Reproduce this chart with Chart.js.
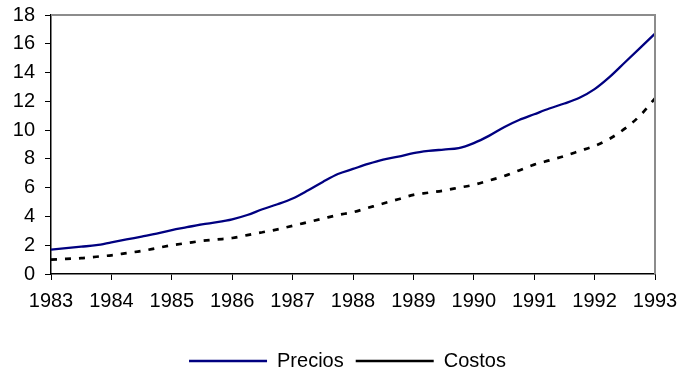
<!DOCTYPE html>
<html>
<head>
<meta charset="utf-8">
<script src="https://cdn.jsdelivr.net/npm/chart.js@4/dist/chart.umd.min.js"></script>
<style>
  html, body { margin: 0; padding: 0; background: #fff; }
  #wrap { width: 681px; height: 378px; }
</style>
</head>
<body>
<div id="wrap"><canvas id="grafico"></canvas></div>
<script>
// Periodos trimestrales 1983 - 1993
const periodos = [];
for (let a = 1983; a <= 1993; a++) {
    for (let t = 0; t < 4; t++) {
        if (a === 1993 && t > 0) break;
        periodos.push(a + t / 4);
    }
}
const anios = ['1983', '1984', '1985', '1986', '1987', '1988', '1989', '1990', '1991', '1992', '1993'];

const precios = [
    1.7, 1.8, 1.9, 2.0,
    2.2, 2.4, 2.6, 2.8,
    3.05, 3.25, 3.45, 3.6,
    3.8, 4.1, 4.5, 4.85,
    5.25, 5.8, 6.4, 6.95,
    7.3, 7.65, 7.95, 8.15,
    8.4, 8.55, 8.65, 8.75,
    9.1, 9.6, 10.2, 10.7,
    11.1, 11.5, 11.85, 12.25,
    12.85, 13.7, 14.7, 15.7,
    16.7
];
const costos = [
    1.0, 1.05, 1.1, 1.2,
    1.3, 1.45, 1.6, 1.8,
    2.0, 2.15, 2.3, 2.4,
    2.5, 2.7, 2.9, 3.1,
    3.35, 3.6, 3.85, 4.1,
    4.3, 4.6, 4.9, 5.2,
    5.5, 5.65, 5.8, 6.0,
    6.2, 6.5, 6.8, 7.2,
    7.6, 7.9, 8.2, 8.55,
    8.9, 9.4, 10.1, 11.0,
    12.2
];

// Marco gris arriba y a la derecha del área del gráfico
const marco = {
    id: 'marco',
    afterDraw(chart) {
        const { ctx, chartArea: a } = chart;
        ctx.save();
        ctx.strokeStyle = '#8c8c8c';
        ctx.lineWidth = 2;
        ctx.beginPath();
        ctx.moveTo(a.left, a.top);
        ctx.lineTo(a.right, a.top);
        ctx.lineTo(a.right, a.bottom);
        ctx.stroke();
        ctx.restore();
    }
};

Chart.defaults.font.family = '"Liberation Sans", Arial, sans-serif';
Chart.defaults.color = '#000';

new Chart(document.getElementById('grafico').getContext('2d'), {
    type: 'line',
    data: {
        datasets: [{
            label: 'Precios',
            data: periodos.map((p, i) => ({ x: p, y: precios[i] })),
            borderColor: '#000080',
            backgroundColor: '#000080',
            borderWidth: 2.3,
            pointRadius: 0,
            cubicInterpolationMode: 'monotone'
        }, {
            label: 'Costos',
            data: periodos.map((p, i) => ({ x: p, y: costos[i] })),
            borderColor: '#000',
            backgroundColor: '#000',
            borderWidth: 2.7,
            borderDash: [6, 8],
            pointRadius: 0,
            cubicInterpolationMode: 'monotone'
        }]
    },
    options: {
        responsive: true,
        maintainAspectRatio: false,
        animation: false,
        layout: { padding: { top: 0, right: 0, bottom: -3, left: 14 } },
        plugins: {
            legend: {
                position: 'bottom',
                labels: {
                    usePointStyle: true,
                    pointStyle: 'line',
                    pointStyleWidth: 78,
                    boxHeight: 20,
                    padding: 12,
                    font: { size: 20 }
                }
            },
            tooltip: { enabled: false }
        },
        scales: {
            x: {
                type: 'linear',
                min: 1983,
                max: 1993,
                afterBuildTicks: axis => { axis.ticks = anios.map(a => ({ value: Number(a) })); },
                afterFit: axis => { axis.height = 65; axis.paddingRight = 26; },
                ticks: {
                    callback: v => String(v),
                    font: { size: 20 },
                    maxRotation: 0,
                    padding: 9
                },
                grid: { drawOnChartArea: false, drawTicks: true, tickLength: 6, color: '#000', lineWidth: 1 },
                border: { color: '#000', width: 1.5 }
            },
            y: {
                min: 0,
                max: 18,
                afterFit: axis => { axis.width = 37; axis.paddingTop = 15; },
                ticks: { stepSize: 2, font: { size: 20 }, padding: 10 },
                grid: { drawOnChartArea: false, drawTicks: true, tickLength: 6, color: '#000', lineWidth: 1 },
                border: { color: '#000', width: 1.5 }
            }
        }
    },
    plugins: [marco]
});
</script>
</body>
</html>
